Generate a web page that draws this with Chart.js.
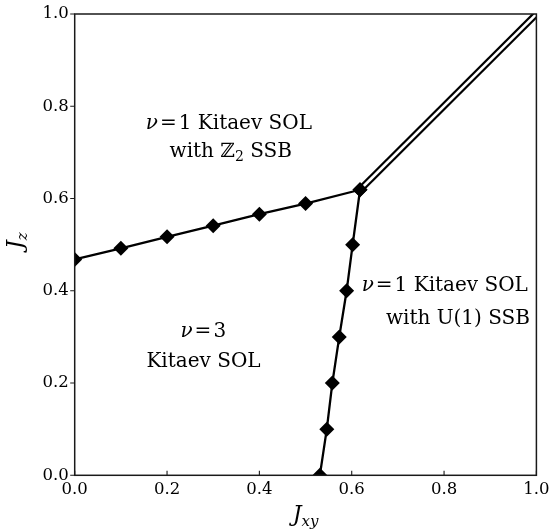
<!DOCTYPE html>
<html><head><meta charset="utf-8">
<script src="https://cdn.jsdelivr.net/npm/chart.js@4/dist/chart.umd.min.js"></script>
<style>html,body{margin:0;padding:0;background:#fff}#wrap{width:549px;height:529px}</style>
</head><body><div id="wrap"><canvas id="c" width="549" height="529"></canvas></div>
<script>
// Phase boundary between nu=3 and nu=1 Z2-SSB phase
const topBoundaryJxy = [0, 0.1, 0.2, 0.3, 0.4, 0.5, 0.618];
const topBoundaryJz  = [0.468, 0.492, 0.517, 0.541, 0.566, 0.589, 0.619];
// Phase boundary between nu=3 and nu=1 U(1)-SSB phase
const sideBoundaryJxy = [0.618, 0.602, 0.589, 0.573, 0.558, 0.546, 0.531];
const sideBoundaryJz  = [0.619, 0.500, 0.400, 0.300, 0.200, 0.100, 0.000];
// Double line boundary between the two nu=1 phases
const diagBoundaryJxy = [0.618, 1.0];
const diagBoundaryJz  = [0.619, 1.0];
// Axis ticks
const tickValues = [0, 0.2, 0.4, 0.6, 0.8, 1.0];
const tickLabels = ['0.0', '0.2', '0.4', '0.6', '0.8', '1.0'];

const zip = (xs, ys) => xs.map((x, i) => ({x: x, y: ys[i]}));

const SERIF = '"DejaVu Serif", "Liberation Serif", serif';
const F = (s, it) => (it ? 'italic ' : '') + s + 'px ' + SERIF;
const TS = 20;

// Region labels, anchored in data coordinates
const regionLabels = [
  {x: 0.334, y: 0.750, align: 'center', runs: [
    {t: 'ν', f: F(TS, true)}, {t: '=', f: F(TS), dx: 2}, {t: '1', f: F(TS), dx: 2}, {t: ' Kitaev SOL', f: F(TS)}]},
  {x: 0.338, y: 0.690, align: 'center', runs: [
    {t: 'with ', f: F(TS)}, {t: 'ℤ', f: F(TS)}, {t: '2', f: F(14), dy: 4}, {t: ' SSB', f: F(TS)}]},
  {x: 0.2785, y: 0.299, align: 'center', runs: [
    {t: 'ν', f: F(TS, true)}, {t: '=', f: F(TS), dx: 2}, {t: '3', f: F(TS), dx: 2}]},
  {x: 0.279, y: 0.2353, align: 'center', runs: [{t: 'Kitaev SOL', f: F(TS)}]},
  {x: 0.6216, y: 0.399, align: 'left', runs: [
    {t: 'ν', f: F(TS, true)}, {t: '=', f: F(TS), dx: 2}, {t: '1', f: F(TS), dx: 2}, {t: ' Kitaev SOL', f: F(TS)}]},
  {x: 0.674, y: 0.328, align: 'left', runs: [{t: 'with U(1) SSB', f: F(TS)}]}
];

function drawRich(ctx, runs, x, y, align) {
  let total = 0;
  const ws = runs.map(r => { ctx.font = r.f; const w = ctx.measureText(r.t).width + (r.dx || 0); total += w; return w; });
  let cx = align === 'center' ? x - total / 2 : (align === 'right' ? x - total : x);
  runs.forEach((r, i) => { ctx.font = r.f; ctx.fillText(r.t, cx + (r.dx || 0), y + (r.dy || 0)); cx += ws[i]; });
}

const framePlugin = {
  id: 'frame',
  afterDatasetsDraw(chart) {
    const ctx = chart.ctx, a = chart.chartArea;
    const xs = chart.scales.x, ys = chart.scales.y;
    ctx.save();
    ctx.fillStyle = '#000';
    ctx.textBaseline = 'alphabetic';
    regionLabels.forEach(l => drawRich(ctx, l.runs, xs.getPixelForValue(l.x), ys.getPixelForValue(l.y), l.align));
    ctx.strokeStyle = '#1a1a1a';
    ctx.lineWidth = 1.5;
    ctx.strokeRect(a.left, a.top, a.right - a.left, a.bottom - a.top);
    ctx.lineWidth = 1.1;
    ctx.beginPath();
    tickValues.forEach(v => {
      const px = xs.getPixelForValue(v);
      ctx.moveTo(px, a.bottom); ctx.lineTo(px, a.bottom - 4.5);
      const py = ys.getPixelForValue(v);
      ctx.moveTo(a.left, py); ctx.lineTo(a.left - 4.5, py);
    });
    ctx.stroke();
    ctx.fillStyle = '#000';
    const cxm = (a.left + a.right) / 2;
    drawRich(ctx, [{t: 'J', f: F(22, true)}, {t: 'xy', f: F(15, true), dy: 5}], cxm, 521, 'center');
    ctx.translate(22, (a.top + a.bottom) / 2 - 4);
    ctx.rotate(-Math.PI / 2);
    drawRich(ctx, [{t: 'J', f: F(22, true)}, {t: 'z', f: F(15, true), dy: 5}], 0, 0, 'center');
    ctx.restore();
  }
};

const ticksOpt = {
  font: {family: SERIF, size: 16.5},
  color: '#000',
  autoSkip: false,
  maxRotation: 0,
  callback: (v, i) => tickLabels[i]
};

new Chart(document.getElementById('c'), {
  type: 'scatter',
  data: {
    datasets: [
      {data: zip(topBoundaryJxy, topBoundaryJz), showLine: true, borderColor: '#000', borderWidth: 2.3,
       pointStyle: 'rectRot', pointRadius: 7.5, pointBackgroundColor: '#000', pointBorderWidth: 0, order: 0, clip: 0},
      {data: zip(sideBoundaryJxy, sideBoundaryJz), showLine: true, borderColor: '#000', borderWidth: 2.3,
       pointStyle: 'rectRot', pointRadius: 7.5, pointBackgroundColor: '#000', pointBorderWidth: 0, order: 1, clip: 0},
      {data: zip(diagBoundaryJxy, diagBoundaryJz), showLine: true, borderColor: '#fff', borderWidth: 2.6,
       pointRadius: 0, order: 2, clip: 0},
      {data: zip(diagBoundaryJxy, diagBoundaryJz), showLine: true, borderColor: '#000', borderWidth: 7,
       pointRadius: 0, order: 3, clip: 0}
    ]
  },
  options: {
    responsive: false,
    animation: false,
    layout: {padding: {top: 14, right: 12.6, left: 0, bottom: 0}},
    plugins: {legend: {display: false}, tooltip: {enabled: false}},
    scales: {
      x: {type: 'linear', min: 0, max: 1,
          afterBuildTicks: s => { s.ticks = tickValues.map(v => ({value: v})); },
          afterFit: s => { s.height = 53.7; s.paddingLeft = 0; s.paddingRight = 0; },
          grid: {display: false, drawTicks: false}, border: {display: false},
          ticks: Object.assign({padding: 5}, ticksOpt)},
      y: {type: 'linear', min: 0, max: 1,
          afterBuildTicks: s => { s.ticks = tickValues.map(v => ({value: v})); },
          afterFit: s => { s.width = 74.7; s.paddingTop = 0; s.paddingBottom = 0; },
          grid: {display: false, drawTicks: false}, border: {display: false},
          ticks: Object.assign({padding: 6}, ticksOpt)}
    }
  },
  plugins: [framePlugin]
});
</script>
</body></html>
